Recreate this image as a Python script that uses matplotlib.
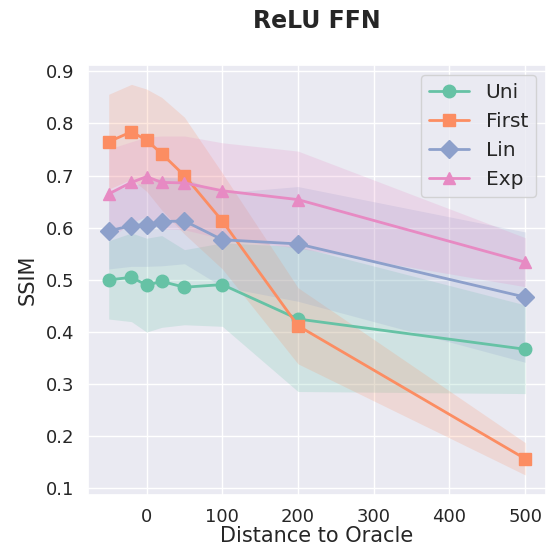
import matplotlib
matplotlib.use("Agg")
import matplotlib.pyplot as plt
import seaborn as sns

# distancias testadas
distancias = [-50, -20, 0, 20, 50, 100, 200, 500]

# medias de SSIM por estrategia
uni = [0.500, 0.505, 0.490, 0.497, 0.486, 0.491, 0.425, 0.367]
first = [0.765, 0.784, 0.768, 0.742, 0.700, 0.613, 0.412, 0.157]
lin = [0.594, 0.604, 0.606, 0.612, 0.613, 0.577, 0.569, 0.467]
exp = [0.665, 0.687, 0.698, 0.687, 0.686, 0.671, 0.654, 0.534]

# meia largura do intervalo de confianca
uni_ci = [0.075, 0.085, 0.090, 0.088, 0.072, 0.080, 0.139, 0.085]
first_ci = [0.091, 0.091, 0.098, 0.108, 0.112, 0.092, 0.073, 0.031]
lin_ci = [0.073, 0.078, 0.080, 0.085, 0.082, 0.090, 0.110, 0.125]
exp_ci = [0.086, 0.078, 0.076, 0.089, 0.090, 0.092, 0.093, 0.047]

nomes = ["Uni", "First", "Lin", "Exp"]

sns.set_theme(style="darkgrid")
cores = sns.color_palette("Set2", 4)
marcadores = ["o", "s", "D", "^"]

fig = plt.figure(figsize=(5.46, 5.54), dpi=100)
ax = fig.add_axes([0.161, 0.1065, 0.839, 0.7765])

series = [(uni, uni_ci), (first, first_ci), (lin, lin_ci), (exp, exp_ci)]
for (media, ci), nome, cor, m in zip(series, nomes, cores, marcadores):
    baixo = [a - b for a, b in zip(media, ci)]
    alto = [a + b for a, b in zip(media, ci)]
    ax.fill_between(distancias, baixo, alto, color=cor, alpha=0.2, linewidth=0)
    ax.plot(distancias, media, marker=m, color=cor, label=nome,
            linewidth=2, markersize=9)

ax.set_xlim(-77.5, 527.5)
ax.set_ylim(0.0875, 0.9125)
ax.set_xticks([0, 100, 200, 300, 400, 500])
ax.set_yticks([0.1, 0.2, 0.3, 0.4, 0.5, 0.6, 0.7, 0.8, 0.9])
ax.tick_params(labelsize=13)
ax.set_xlabel("Distance to Oracle", fontsize=15, labelpad=0)
ax.set_ylabel("SSIM", fontsize=15, labelpad=6)
fig.suptitle("ReLU FFN", fontsize=17, fontweight="bold", x=0.58, y=0.962, va="center")
ax.legend(loc="upper right", fontsize=14.5)

fig.savefig("out.png", dpi=100)
